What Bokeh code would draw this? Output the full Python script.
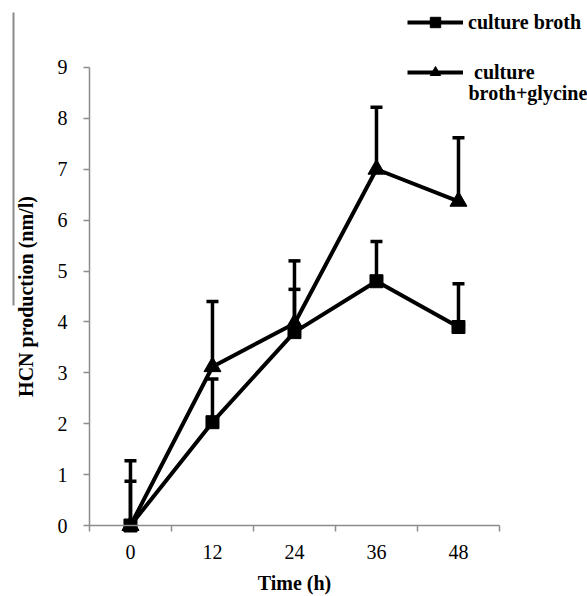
from bokeh.plotting import figure
from bokeh.models import (Range1d, FixedTicker, Whisker, ColumnDataSource, TeeHead,
                          Legend, LegendItem, Label, BoxAnnotation)
from bokeh.embed import file_html
from bokeh.resources import INLINE

# ---- data ----
hours = [0, 12, 24, 36, 48]
tick_labels = ["0", "12", "24", "36", "48"]
boundaries = [-6, 6, 18, 30, 42, 54]
y_ticks = [0, 1, 2, 3, 4, 5, 6, 7, 8, 9]
broth = [0.0, 2.03, 3.8, 4.8, 3.9]
broth_sd = [0.87, 0.85, 0.84, 0.78, 0.85]
glycine = [0.0, 3.12, 3.97, 7.0, 6.37]
glycine_sd = [1.27, 1.28, 1.23, 1.22, 1.25]
series_names = ["culture broth", " culture", "broth+glycine"]

SERIF = "Liberation Serif"
AXIS_GREY = "#8c8c8c"

p = figure(width=587, height=596, output_backend="svg", toolbar_location=None,
           x_range=Range1d(-19.02, 66.88), y_range=Range1d(-1.395, 10.316),
           min_border_left=0, min_border_right=0, min_border_top=0, min_border_bottom=0)
p.outline_line_color = None
p.grid.grid_line_color = None

# x axis
xa = p.xaxis[0]
xa.ticker = FixedTicker(ticks=hours, minor_ticks=boundaries)
xa.major_label_overrides = {h: t for h, t in zip(hours, tick_labels)}
xa.bounds = (boundaries[0], boundaries[-1])
xa.fixed_location = 0
xa.axis_line_color = AXIS_GREY
xa.axis_line_width = 1.5
xa.major_tick_line_color = None
xa.major_tick_out = 6
xa.major_tick_in = 0
xa.minor_tick_line_color = AXIS_GREY
xa.minor_tick_line_width = 1.5
xa.minor_tick_out = 6
xa.minor_tick_in = 0
xa.major_label_text_font = SERIF
xa.major_label_text_font_size = "20px"
xa.major_label_text_color = "black"
xa.major_label_standoff = 13
xa.axis_label = "Time (h)"
xa.axis_label_text_font = SERIF
xa.axis_label_text_font_style = "bold"
xa.axis_label_text_font_size = "20px"
xa.axis_label_text_color = "black"
xa.axis_label_standoff = 10

# y axis
ya = p.yaxis[0]
ya.ticker = FixedTicker(ticks=y_ticks)
ya.bounds = (0, 9)
ya.fixed_location = boundaries[0]
ya.axis_line_color = AXIS_GREY
ya.axis_line_width = 1.5
ya.major_tick_line_color = AXIS_GREY
ya.major_tick_line_width = 1.5
ya.major_tick_out = 6
ya.major_tick_in = 0
ya.minor_tick_line_color = None
ya.major_label_text_font = SERIF
ya.major_label_text_font_size = "20px"
ya.major_label_text_color = "black"
ya.major_label_standoff = 16
ya.axis_label = "HCN production (nm/l)"
ya.axis_label_text_font = SERIF
ya.axis_label_text_font_style = "bold"
ya.axis_label_text_font_size = "20px"
ya.axis_label_text_color = "black"
ya.axis_label_standoff = 18

# error bars (upward only)
src_b = ColumnDataSource(dict(x=hours, y=broth, upper=[m + s for m, s in zip(broth, broth_sd)]))
src_g = ColumnDataSource(dict(x=hours, y=glycine, upper=[m + s for m, s in zip(glycine, glycine_sd)]))
for src in (src_b, src_g):
    w = Whisker(base="x", upper="upper", lower="y", source=src,
                upper_head=TeeHead(size=12, line_width=3.5, line_color="black"),
                lower_head=None, line_width=3.5, line_color="black")
    p.add_layout(w)

# series
lb = p.line(hours, broth, line_width=4, line_color="black")
sb = p.scatter(hours, broth, marker="square", size=13, color="black")
lg = p.line(hours, glycine, line_width=4, line_color="black")
sg = p.scatter(hours, glycine, marker="triangle", size=17, color="black")

# legends
common = dict(border_line_color=None, background_fill_alpha=0, padding=0, margin=0,
              glyph_width=56, glyph_height=26, label_height=26,
              label_text_font=SERIF, label_text_font_style="bold",
              label_text_font_size="20px", label_text_color="black")
leg1 = Legend(items=[LegendItem(label=series_names[0], renderers=[lb, sb])],
              location=(407, 561), label_standoff=5, **common)
leg2 = Legend(items=[LegendItem(label=series_names[1], renderers=[lg, sg])],
              location=(407, 511), label_standoff=6, **common)
p.add_layout(leg1)
p.add_layout(leg2)
p.add_layout(Label(x=468, y=504, x_units="screen", y_units="screen", text=series_names[2],
                   text_font=SERIF, text_font_style="bold", text_font_size="20px",
                   text_baseline="middle", text_color="black"))

# stray vertical rule at the left edge of the page
p.add_layout(BoxAnnotation(left=12, right=14, top=12, bottom=305,
                           left_units="canvas", right_units="canvas",
                           top_units="canvas", bottom_units="canvas",
                           fill_color="#8c8c8c", fill_alpha=1, line_color=None))

open("out.html", "w").write(file_html(p, INLINE))
